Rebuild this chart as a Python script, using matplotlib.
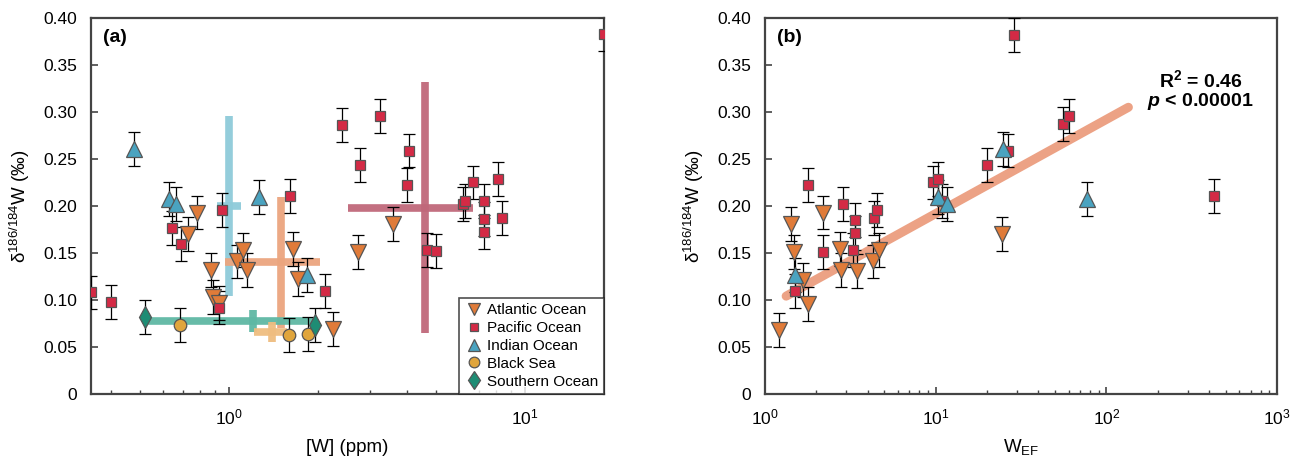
import numpy as np
import matplotlib
matplotlib.use("Agg")
import matplotlib.pyplot as plt

plt.rcParams['font.family'] = ['Liberation Sans', 'DejaVu Sans']
plt.rcParams['mathtext.fontset'] = 'custom'
plt.rcParams['mathtext.rm'] = 'Liberation Sans'
plt.rcParams['mathtext.it'] = 'Liberation Sans:italic'
plt.rcParams['mathtext.bf'] = 'Liberation Sans:bold'
plt.rcParams['mathtext.bfit'] = 'Liberation Sans:bold:italic'

# ---- panel (a): [W] (ppm) vs d186/184W ----
atl_w = [0.78, 0.726, 0.869, 0.883, 0.925, 1.064, 1.115, 1.15, 1.64, 1.71, 2.24, 2.73, 3.58]
atl_d = [0.193, 0.170, 0.132, 0.103, 0.097, 0.141, 0.153, 0.132, 0.154, 0.122, 0.069, 0.151, 0.181]
pac_w = [0.342, 0.40, 0.642, 0.689, 0.925, 0.947, 1.61, 2.11, 2.41, 2.77, 3.24, 4.06, 3.99,
         4.66, 5.00, 6.18, 6.27, 6.67, 7.26, 7.26, 7.26, 8.11, 8.36, 18.5]
pac_d = [0.108, 0.098, 0.177, 0.160, 0.092, 0.196, 0.211, 0.110, 0.286, 0.244, 0.296, 0.259, 0.222,
         0.153, 0.152, 0.202, 0.205, 0.225, 0.205, 0.186, 0.172, 0.229, 0.187, 0.383]
ind_w = [0.478, 0.627, 0.662, 1.26, 1.84]
ind_d = [0.261, 0.207, 0.202, 0.210, 0.127]
bla_w = [0.683, 1.60, 1.85]
bla_d = [0.073, 0.063, 0.064]
sou_w = [0.52, 1.95]
sou_d = [0.082, 0.073]
err = 0.018

# basin means: x center, x lo, x hi, y center, y lo, y hi
mean_names = ['Indian', 'Atlantic', 'Southern', 'Black', 'Pacific']
mean_x = [1.0, 1.50, 1.205, 1.40, 4.59]
mean_xlo = [0.91, 0.97, 0.52, 1.22, 2.52]
mean_xhi = [1.10, 2.03, 1.92, 1.57, 6.67]
mean_y = [0.200, 0.140, 0.078, 0.066, 0.198]
mean_ylo = [0.104, 0.070, 0.066, 0.055, 0.065]
mean_yhi = [0.296, 0.210, 0.089, 0.077, 0.332]
mean_col = ['#8ecbd9', '#eba57e', '#5fb8a4', '#efbd80', '#c0687a']

# ---- panel (b): W_EF vs d186/184W ----
atl_ef = [1.20, 1.42, 1.48, 1.67, 1.79, 2.19, 2.75, 2.79, 3.47, 4.31, 4.67, 24.6]
atl_ed = [0.068, 0.181, 0.151, 0.121, 0.096, 0.193, 0.154, 0.132, 0.131, 0.141, 0.153, 0.170]
pac_ef = [1.50, 1.79, 2.19, 2.86, 3.28, 3.37, 3.37, 4.33, 4.53, 9.66, 10.3, 10.9, 20.0, 26.6,
          28.9, 56.0, 60.0, 425.0]
pac_ed = [0.110, 0.222, 0.151, 0.202, 0.153, 0.185, 0.171, 0.187, 0.196, 0.225, 0.229, 0.205,
          0.244, 0.259, 0.382, 0.287, 0.296, 0.211]
ind_ef = [1.50, 10.3, 11.7, 24.9, 77.4]
ind_ed = [0.127, 0.210, 0.202, 0.261, 0.207]
fit_x = [1.33, 134.6]
fit_a, fit_b = 0.0917, 0.1002   # y = a + b*log10(x)

series_style = {
    'Atlantic Ocean': dict(marker='v', color='#e07b39', ms=11),
    'Pacific Ocean': dict(marker='s', color='#d42a45', ms=7.5),
    'Indian Ocean': dict(marker='^', color='#4aa3c0', ms=11),
    'Black Sea': dict(marker='o', color='#e0a53c', ms=9),
    'Southern Ocean': dict(marker='d', color='#1e8c74', ms=11),
}


def draw(ax, x, y, name):
    st = series_style[name]
    ax.errorbar(x, y, yerr=err, fmt='none', ecolor='black', elinewidth=0.9,
                capsize=4, capthick=0.9, zorder=3)
    ax.plot(x, y, linestyle='none', marker=st['marker'], ms=st['ms'],
            mfc=st['color'], mec='#555555', mew=0.9, zorder=4, label=name)


def style(ax):
    for s in ax.spines.values():
        s.set_color('#444444')
        s.set_linewidth(1.6)
    ax.tick_params(which='both', direction='in', labelsize=12.5, color='#444444', pad=10)
    ax.tick_params(which='major', length=5, width=1.2)
    ax.tick_params(which='minor', length=3, width=1.0)
    ax.set_ylim(0, 0.40)
    ax.set_yticks(np.arange(0, 0.41, 0.05))
    ax.set_yticklabels(['0'] + ['%.2f' % v for v in np.arange(0.05, 0.41, 0.05)])
    ax.set_ylabel('δ$^{186/184}$W (‰)', fontsize=13.5, labelpad=8)


fig = plt.figure(figsize=(12.94, 4.57), dpi=100)
ax1 = fig.add_axes([0.0703, 0.1379, 0.3965, 0.8227])
ax2 = fig.add_axes([0.5912, 0.1379, 0.3957, 0.8227])

for i in range(len(mean_x)):
    ax1.plot([mean_x[i], mean_x[i]], [mean_ylo[i], mean_yhi[i]], color=mean_col[i],
             lw=5.5, solid_capstyle='butt', zorder=2, alpha=0.95)
    ax1.plot([mean_xlo[i], mean_xhi[i]], [mean_y[i], mean_y[i]], color=mean_col[i],
             lw=5.5, solid_capstyle='butt', zorder=2, alpha=0.95)

draw(ax1, atl_w, atl_d, 'Atlantic Ocean')
draw(ax1, pac_w, pac_d, 'Pacific Ocean')
draw(ax1, ind_w, ind_d, 'Indian Ocean')
draw(ax1, bla_w, bla_d, 'Black Sea')
draw(ax1, sou_w, sou_d, 'Southern Ocean')

ax1.set_xscale('log')
ax1.set_xlim(0.342, 18.5)
style(ax1)
ax1.set_xlabel('[W] (ppm)', fontsize=13.5, labelpad=8)
ax1.text(0.023, 0.947, '(a)', transform=ax1.transAxes, fontsize=14,
         fontweight='bold', va='center')
leg = ax1.legend(loc='lower right', borderaxespad=0, fontsize=11, fancybox=False,
                 handletextpad=0.3, labelspacing=0.25, borderpad=0.35,
                 handlelength=1.2, markerscale=0.85)
leg.get_frame().set_edgecolor('#222222')
leg.get_frame().set_linewidth(1.2)

xx = np.array(fit_x)
ax2.plot(xx, fit_a + fit_b * np.log10(xx), color='#eca285', lw=6.5,
         solid_capstyle='round', zorder=2)
draw(ax2, atl_ef, atl_ed, 'Atlantic Ocean')
draw(ax2, pac_ef, pac_ed, 'Pacific Ocean')
draw(ax2, ind_ef, ind_ed, 'Indian Ocean')
ax2.set_xscale('log')
ax2.set_xlim(1, 1000)
style(ax2)
ax2.set_xlabel(r'W$_{\mathrm{EF}}$', fontsize=13.5, labelpad=7)
ax2.text(0.023, 0.947, '(b)', transform=ax2.transAxes, fontsize=14,
         fontweight='bold', va='center')
ax2.text(356, 0.334, r'R$^{\mathbf{2}}$ = 0.46', fontsize=14, fontweight='bold',
         ha='center', va='center')
ax2.text(356, 0.311, r'$\mathbfit{p}$ < 0.00001', fontsize=14, fontweight='bold',
         ha='center', va='center')

fig.savefig('out.png', dpi=100)
